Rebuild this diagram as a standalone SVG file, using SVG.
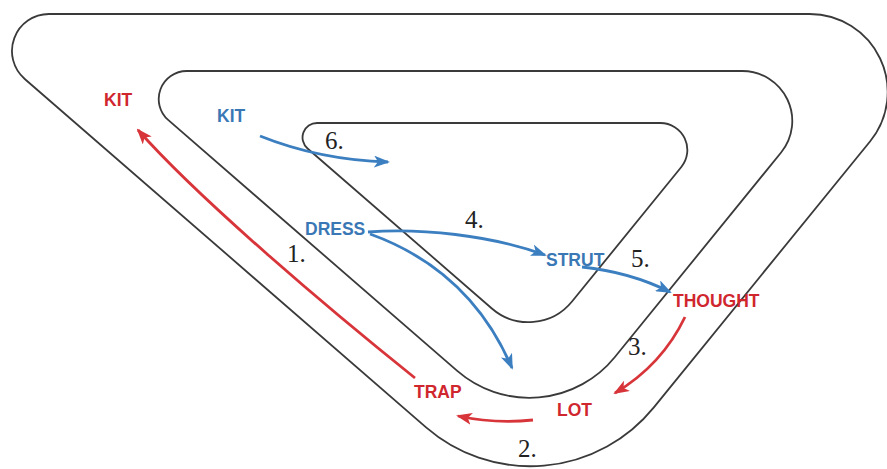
<svg xmlns="http://www.w3.org/2000/svg" width="887" height="469" viewBox="0 0 887 469">
<defs>
<style>
.loop{fill:none;stroke:#3a3a3a;stroke-width:1.8}
.lbl{font-family:"Liberation Sans",Arial,sans-serif;font-weight:bold;font-size:17.5px}
.red{fill:#d0262e}
.blue{fill:#3a78b5}
.num{font-family:"Liberation Serif","Times New Roman",serif;font-size:25px;fill:#222}
.ra{fill:none;stroke:#d8353a;stroke-width:2.8;marker-end:url(#mr)}
.ba{fill:none;stroke:#3c7fc0;stroke-width:2.8;marker-end:url(#mb)}
</style>
<marker id="mr" viewBox="0 0 16 12" refX="14" refY="6" markerWidth="16" markerHeight="12" markerUnits="userSpaceOnUse" orient="auto">
<path d="M0,0 L16,6 L0,12 L4,6 z" fill="#d8353a"/>
</marker>
<marker id="mb" viewBox="0 0 16 12" refX="14" refY="6" markerWidth="16" markerHeight="12" markerUnits="userSpaceOnUse" orient="auto">
<path d="M0,0 L16,6 L0,12 L4,6 z" fill="#3c7fc0"/>
</marker>
</defs>
<rect width="887" height="469" fill="#fff"/>
<g id="track">
<path class="loop" d="M49 14 L809.7 14 A78 78 0 0 1 870.2 141.2 L653.65 407.56 A159 159 0 0 1 426.07 427.31 L24.75 78.97 A37 37 0 0 1 49 14 Z"/>
<path class="loop" d="M186.75 71 L742.3 71 A50 50 0 0 1 781.1 152.5 L614.7 357.22 A110 110 0 0 1 457.24 370.88 L168.4 120.17 A28 28 0 0 1 186.75 71 Z"/>
<path class="loop" d="M317.04 123 L660.37 123 A27 27 0 0 1 681.31 167.02 L572.01 301.49 A56 56 0 0 1 491.85 308.45 L307.54 148.46 A14.5 14.5 0 0 1 317.04 123 Z"/>
</g>
<g id="connectors">
<path class="ra" d="M415 378 C330 310 200 200 138 130"/>
<path class="ra" d="M533 420 Q495 424 458 416"/>
<path class="ra" d="M685 317 Q662 365 615 393"/>
<path class="ba" d="M260 136 Q320 160 388 162"/>
<path class="ba" d="M368 232 C420 228 490 235 545 255"/>
<path class="ba" d="M370 234 Q470 270 512 368"/>
<path class="ba" d="M582 267 Q630 272 670 292"/>
</g>
<g id="kit-red"><text class="lbl red" x="104" y="106">KIT</text></g>
<g id="trap"><text class="lbl red" x="414" y="398">TRAP</text></g>
<g id="lot"><text class="lbl red" x="557" y="416">LOT</text></g>
<g id="thought"><text class="lbl red" x="673" y="307">THOUGHT</text></g>
<g id="kit-blue"><text class="lbl blue" x="217" y="122">KIT</text></g>
<g id="dress"><text class="lbl blue" x="305" y="235">DRESS</text></g>
<g id="strut"><text class="lbl blue" x="546" y="266">STRUT</text></g>
<g id="steps">
<text class="num" x="287" y="262">1.</text>
<text class="num" x="518" y="457">2.</text>
<text class="num" x="628" y="355">3.</text>
<text class="num" x="465" y="228">4.</text>
<text class="num" x="631" y="267">5.</text>
<text class="num" x="325" y="149">6.</text>
</g>
</svg>
